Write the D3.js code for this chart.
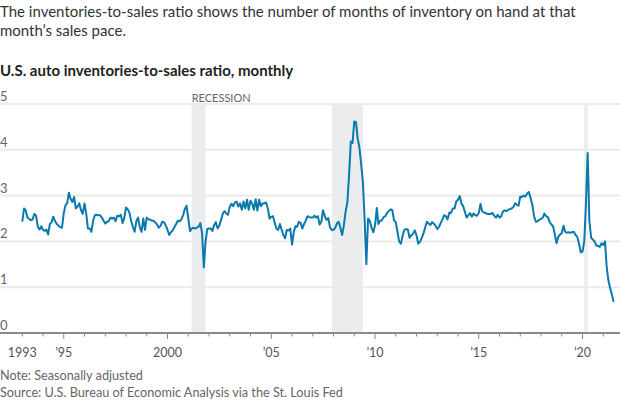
<!DOCTYPE html>
<html><head><meta charset="utf-8">
<script src="https://cdn.jsdelivr.net/npm/d3@7"></script>
<style>body{margin:0;background:#fff}svg{display:block}</style>
</head><body><svg id="c" width="620" height="400"></svg>
<script>
// Monthly ratio, starting January 1993
const startYear = 1993;
const ratio1990s = [
  2.43,2.72,2.68,2.52,2.49,2.46,2.48,2.60,2.56,2.32,2.26,2.33, // 1993
  2.25,2.23,2.26,2.15,2.38,2.42,2.54,2.44,2.38,2.34,2.31,2.30, // 1994
  2.62,2.79,2.83,3.06,2.93,2.86,2.97,2.72,2.76,2.83,2.68,2.60, // 1995
  2.83,2.60,2.28,2.28,2.21,2.45,2.57,2.58,2.57,2.57,2.52,2.45, // 1996
  2.39,2.43,2.44,2.52,2.50,2.52,2.44,2.56,2.55,2.58,2.40,2.52, // 1997
  2.74,2.70,2.63,2.45,2.32,2.21,2.44,2.52,2.30,2.21,2.50,2.25, // 1998
  2.52,2.48,2.48,2.45,2.45,2.41,2.37,2.30,2.34,2.43,2.42,2.35  // 1999
];
const ratio2000s = [
  2.25,2.14,2.20,2.24,2.31,2.38,2.45,2.44,2.48,2.57,2.71,2.78, // 2000
  2.50,2.22,2.28,2.30,2.28,2.30,2.32,2.40,2.18,1.43,2.00,2.27, // 2001
  2.28,2.28,2.23,2.36,2.42,2.28,2.34,2.47,2.61,2.66,2.61,2.58, // 2002
  2.76,2.82,2.77,2.85,2.87,2.76,2.83,2.69,2.87,2.72,2.91,2.69, // 2003
  2.89,2.82,2.69,2.92,2.67,2.91,2.77,2.83,2.83,2.85,2.72,2.50, // 2004
  2.54,2.55,2.41,2.28,2.25,2.38,2.26,2.14,2.07,2.25,2.24,2.28, // 2005
  1.93,2.20,2.33,2.32,2.43,2.40,2.28,2.38,2.46,2.55,2.53,2.52, // 2006
  2.52,2.56,2.52,2.55,2.37,2.43,2.68,2.55,2.47,2.51,2.30,2.25, // 2007
  2.25,2.30,2.39,2.43,2.30,2.14,2.35,2.65,2.85,3.45,4.18,4.15, // 2008
  4.62,4.60,4.25,4.05,3.70,3.30,2.50,1.50,2.50,2.45,2.30,2.20  // 2009
];
const ratio2010s = [
  2.35,2.73,2.38,2.45,2.46,2.53,2.55,2.62,2.66,2.70,2.68,2.46, // 2010
  2.42,2.20,2.00,1.95,2.12,2.25,2.27,2.26,2.08,2.13,2.17,2.24, // 2011
  2.13,1.95,1.99,2.07,2.17,2.30,2.43,2.39,2.36,2.42,2.39,2.34, // 2012
  2.27,2.32,2.40,2.48,2.57,2.55,2.48,2.63,2.62,2.72,2.72,2.87, // 2013
  2.91,2.99,2.83,2.77,2.65,2.52,2.57,2.62,2.54,2.61,2.57,2.56, // 2014
  2.62,2.82,2.66,2.63,2.62,2.60,2.60,2.60,2.62,2.56,2.52,2.58, // 2015
  2.52,2.55,2.65,2.68,2.66,2.69,2.70,2.72,2.75,2.83,2.80,2.78, // 2016
  2.98,2.97,3.00,2.98,3.04,3.08,2.95,2.80,2.55,2.43,2.44,2.47, // 2017
  2.49,2.52,2.61,2.55,2.53,2.42,2.37,2.33,2.15,1.96,2.10,2.15, // 2018
  2.18,2.34,2.21,2.19,2.20,2.19,2.20,2.21,2.14,2.10,1.95,1.76  // 2019
];
const ratio2020s = [
  1.78,2.00,2.80,3.93,2.45,2.08,2.04,2.00,1.91,1.90,1.88,1.96, // 2020
  1.92,2.00,1.45,1.15,0.98,0.84,0.68                           // 2021
];
const recessionStarts = ["2001-03-01", "2007-12-01", "2020-02-01"];
const recessionEnds   = ["2001-11-01", "2009-06-01", "2020-04-01"];
const yTicks = [0, 1, 2, 3, 4, 5];
const xMajorYears = [1995, 2000, 2005, 2010, 2015, 2020];
const xLabelYears = [1993, 1995, 2000, 2005, 2010, 2015, 2020];
const xLabels = ["1993", "\u201995", "2000", "\u201905", "\u201910", "\u201915", "\u201920"];

const values = [...ratio1990s, ...ratio2000s, ...ratio2010s, ...ratio2020s];
const data = values.map((v, i) => ({date: new Date(startYear, i, 1), value: v}));

const svg = d3.select("#c");
const font = "Lato, 'Noto Sans', sans-serif";
const x = d3.scaleTime().domain([new Date(1993,0,1), new Date(2020,0,1)]).range([22.3, 582.5]);
const y = d3.scaleLinear().domain([0, 5]).range([333, 104]);

// header text
svg.append("text").attr("x", 0).attr("y", 17).attr("font-family", font).attr("font-size", 15)
  .attr("fill", "#333").text("The inventories-to-sales ratio shows the number of months of inventory on hand at that");
svg.append("text").attr("x", 0).attr("y", 36).attr("font-family", font).attr("font-size", 15)
  .attr("fill", "#333").text("month\u2019s sales pace.");
svg.append("text").attr("x", 0).attr("y", 76).attr("font-family", font).attr("font-size", 15)
  .attr("font-weight", "bold").attr("fill", "#222").text("U.S. auto inventories-to-sales ratio, monthly");

// recession bands
svg.append("g").selectAll("rect").data(recessionStarts).join("rect")
  .attr("x", (d) => x(new Date(d)))
  .attr("width", (d, i) => x(new Date(recessionEnds[i])) - x(new Date(d)))
  .attr("y", y(5)).attr("height", y(0) - y(5))
  .attr("fill", "#ebecee");
svg.append("text").attr("x", x(new Date(recessionStarts[0]))).attr("y", 102)
  .attr("font-family", font).attr("font-size", 11).attr("fill", "#666").text("RECESSION");

// gridlines
svg.append("g").selectAll("line").data(yTicks.filter(d => d > 0)).join("line")
  .attr("x1", 0).attr("x2", 620).attr("y1", d => y(d)).attr("y2", d => y(d))
  .attr("stroke", "#ebebeb").attr("stroke-width", 2);
svg.append("g").selectAll("text").data(yTicks).join("text")
  .attr("x", 0).attr("y", d => y(d) - 3)
  .attr("font-family", font).attr("font-size", 13).attr("fill", "#666").text(d => d);

// x axis
const yearTicks = d3.range(1993, 2022).map(yr => new Date(yr, 0, 1));
svg.append("g").selectAll("line").data(yearTicks).join("line")
  .attr("x1", d => x(d)).attr("x2", d => x(d))
  .attr("y1", y(0)).attr("y2", d => y(0) + (xMajorYears.includes(d.getFullYear()) ? 6 : 3.5))
  .attr("stroke", "#888").attr("stroke-width", 1);
svg.append("line").attr("x1", 0).attr("x2", 620).attr("y1", y(0)).attr("y2", y(0))
  .attr("stroke", "#8a8a8a").attr("stroke-width", 2);
svg.append("g").selectAll("text").data(xLabelYears).join("text")
  .attr("x", d => x(new Date(d, 0, 1))).attr("y", 357).attr("text-anchor", "middle")
  .attr("font-family", font).attr("font-size", 12.5).attr("fill", "#555").text((d, i) => xLabels[i]);

// line
const line = d3.line().x(d => x(d.date)).y(d => y(d.value));
svg.append("path").datum(data).attr("d", line).attr("fill", "none")
  .attr("stroke", "#0a79ad").attr("stroke-width", 2).attr("stroke-linejoin", "round");

// notes
svg.append("text").attr("x", 0).attr("y", 380).attr("font-family", font).attr("font-size", 12.7)
  .attr("fill", "#666").text("Note: Seasonally adjusted");
svg.append("text").attr("x", 0).attr("y", 397).attr("font-family", font).attr("font-size", 12.7)
  .attr("fill", "#666").text("Source: U.S. Bureau of Economic Analysis via the St. Louis Fed");
</script></body></html>
